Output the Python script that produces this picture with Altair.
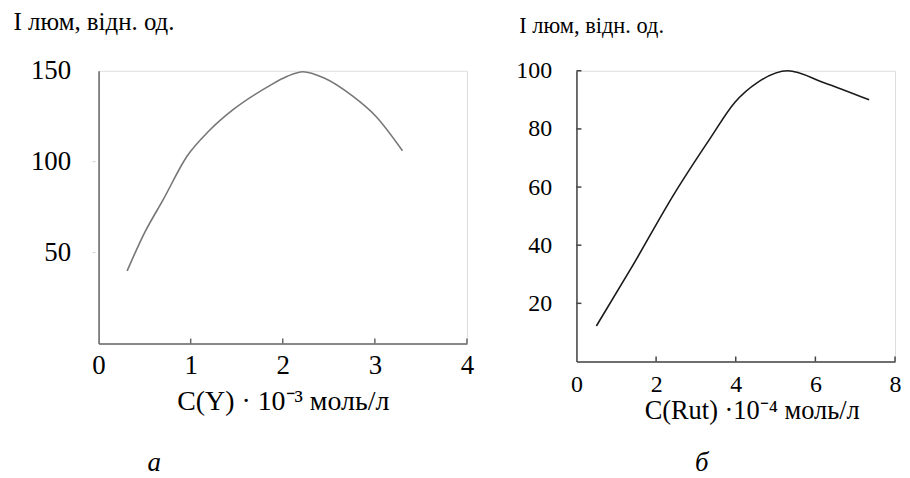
import altair as alt
import pandas as pd

# ---- data: panel a (Y) ----
a_x = [0.31, 0.50, 0.70, 0.96, 1.20, 1.46, 1.83, 2.05, 2.22, 2.45, 2.76, 3.01, 3.30]
a_y = [40, 61, 79, 103, 117, 128.6, 141, 147, 149.5, 146, 136, 125, 106]
a_xticks = [0, 1, 2, 3, 4]
a_yticks = [50, 100, 150]

# ---- data: panel b (Rut) ----
b_x = [0.50, 1.37, 2.47, 3.37, 3.97, 4.55, 5.30, 6.20, 7.35]
b_y = [12.2, 32, 58, 77, 89, 96, 100, 96, 90]
b_xticks = [0, 2, 4, 6, 8]
b_yticks = [20, 40, 60, 80, 100]

FONT = "Liberation Serif"


def panel(xs, ys, xt, yt, xdom, ydom, w, h, line_col, axis_col, ytitle, xtitle,
          tick_fs, ytitle_x, ytitle_y, ytitle_fs, xtitle_fs, xtitle_x, xtitle_y,
          lab_pad_y, lab_pad_x, sub, sub_dx, sub_off, ytick_inside):
    df = pd.DataFrame({"x": xs, "y": ys})
    xs_ = alt.Scale(domain=xdom, nice=False, zero=False)
    ys_ = alt.Scale(domain=ydom, nice=False, zero=False)
    xaxis = alt.Axis(values=xt, format="d", ticks=False, grid=False, domainColor=axis_col,
                     domainWidth=1.5, labelFont=FONT, labelFontSize=tick_fs,
                     labelColor="black", labelPadding=lab_pad_x, title=xtitle,
                     titleFont=FONT, titleFontSize=xtitle_fs, titleFontWeight="normal",
                     titleColor="black", titleX=xtitle_x, titleY=xtitle_y,
                     titleAlign="center", titleBaseline="alphabetic",
                     labelFlush=False)
    yaxis = alt.Axis(values=yt, format="d", ticks=False, grid=False, domainColor=axis_col,
                     domainWidth=1.5, labelFont=FONT, labelFontSize=tick_fs,
                     labelColor="black", labelPadding=lab_pad_y, title=ytitle,
                     titleFont=FONT, titleFontSize=ytitle_fs, titleFontWeight="normal",
                     titleColor="black", titleAngle=0, titleX=ytitle_x, titleY=ytitle_y,
                     titleAlign="left", titleBaseline="alphabetic")
    line = alt.Chart(df).mark_line(color=line_col, strokeWidth=1.6, interpolate="monotone").encode(
        x=alt.X("x:Q", scale=xs_, axis=xaxis),
        y=alt.Y("y:Q", scale=ys_, axis=yaxis),
    )
    xtk = alt.Chart(pd.DataFrame({"t": xt[1:]})).mark_rule(
        color=axis_col, strokeWidth=1.5, y2Offset=-5
    ).encode(x=alt.X("t:Q", scale=xs_), y=alt.datum(ydom[0]), y2=alt.datum(ydom[0]))
    if ytick_inside:
        ytk = alt.Chart(pd.DataFrame({"t": yt})).mark_rule(
            color=axis_col, strokeWidth=1.5, x2Offset=5
        ).encode(y=alt.Y("t:Q", scale=ys_), x=alt.datum(xdom[0]), x2=alt.datum(xdom[0]))
    else:
        ytk = alt.Chart(pd.DataFrame({"t": yt[:-1]})).mark_rule(
            color="#cfcfcf", strokeWidth=1, xOffset=-3, x2Offset=-6
        ).encode(y=alt.Y("t:Q", scale=ys_), x=alt.datum(xdom[0]), x2=alt.datum(xdom[0]))
    return alt.layer(line, xtk, ytk).properties(
        width=w, height=h,
        title=alt.TitleParams(sub, orient="bottom", anchor="start", frame="group",
                              dx=sub_dx, offset=sub_off, font=FONT, fontSize=27,
                              fontStyle="italic", fontWeight="normal", color="black"),
    )


left = panel(a_x, a_y, a_xticks, a_yticks, [0, 4], [0, 150], 370, 274, "#777777", "#666666",
             "I люм, відн. од.", "C(Y) · 10⁻³ моль/л",
             27, -86, -41, 25, 28, 185, 66, 28, 9, "а", 49, 35, False)
right = panel(b_x, b_y, b_xticks, b_yticks, [0, 8], [0, 100], 320, 292, "#1a1a1a", "#444444",
              "I люм, відн. од.", "C(Rut) ·10⁻⁴ моль/л",
              24, -58, -38, 22.5, 26.5, 176, 57, 25, 11, "б", 119, 27, True)

chart = alt.hconcat(left, right, spacing=110, bounds="flush").configure_view(
    stroke=None
).properties(
    padding={"left": 4, "top": 0, "right": 0, "bottom": 0}
).configure(background="white")

chart.save("out.html", embed_options={"renderer": "svg", "actions": False})
